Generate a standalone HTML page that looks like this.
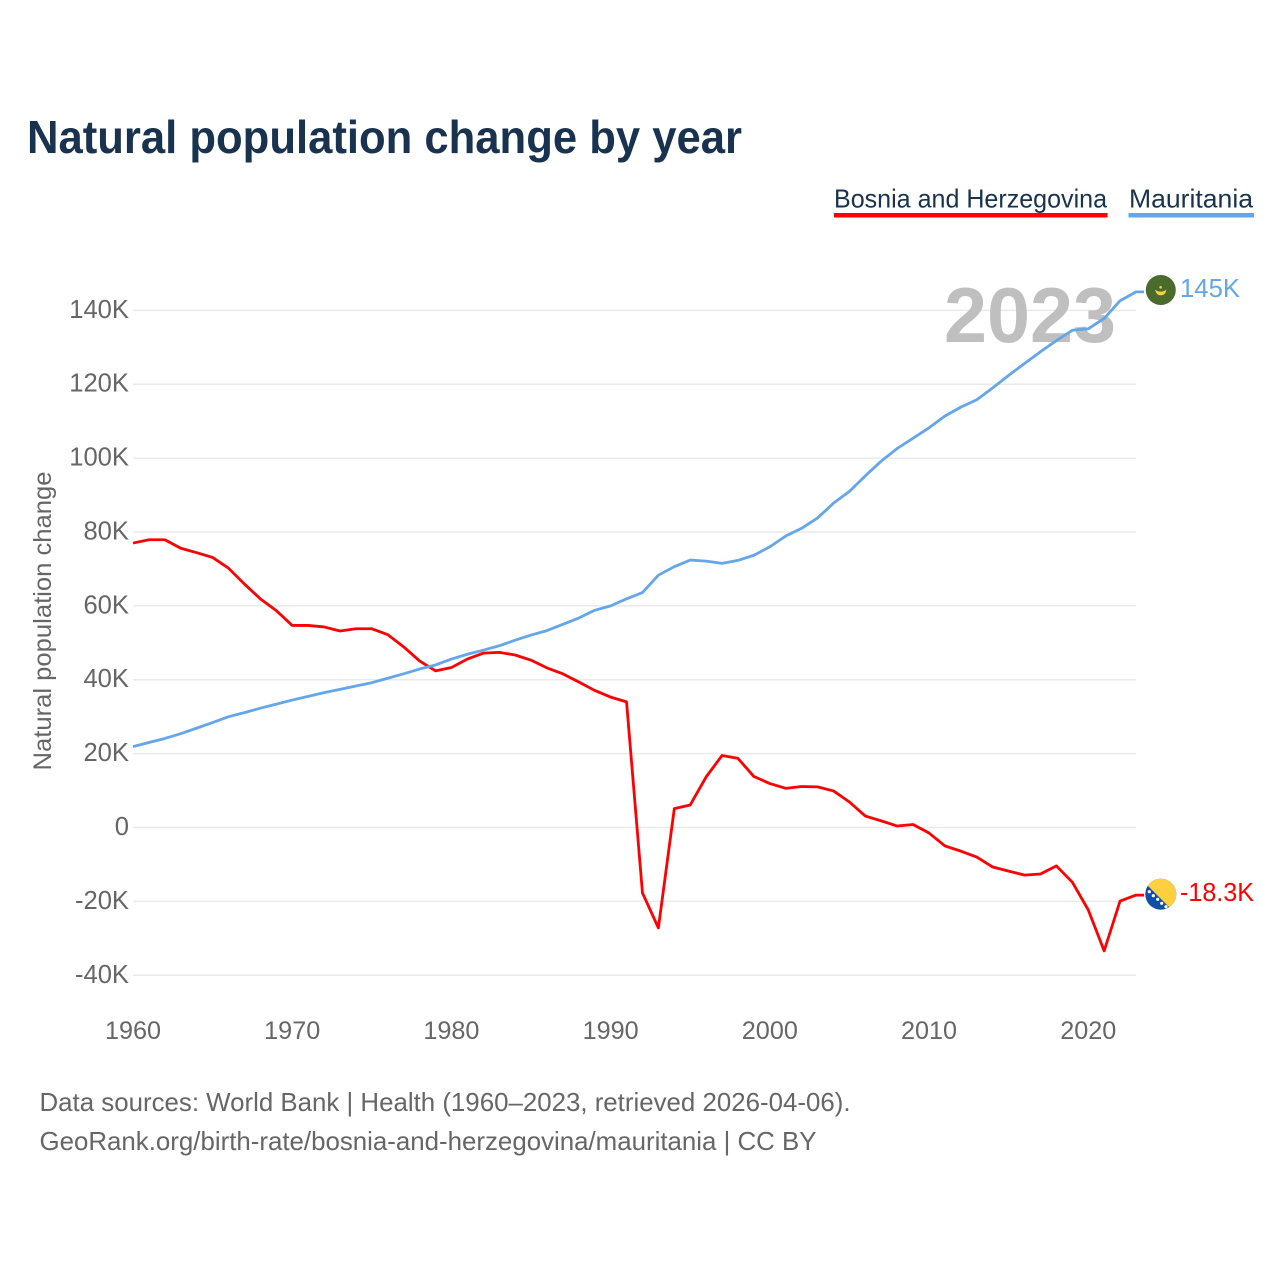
<!DOCTYPE html>
<html lang="en">
<head>
<meta charset="utf-8">
<title>Natural population change by year</title>
<style>
html,body{margin:0;padding:0;background:#fff;}
svg{display:block;font-family:"Liberation Sans",sans-serif;}
</style>
</head>
<body>
<svg id="chart" xmlns="http://www.w3.org/2000/svg" width="1280" height="1280" viewBox="0 0 1280 1280">
  <defs>
    <clipPath id="flag-clip-mr"><circle cx="1160.8" cy="290" r="15"/></clipPath>
    <clipPath id="flag-clip-ba"><circle cx="1160.8" cy="894.2" r="15.5"/></clipPath>
  </defs>
  <rect width="1280" height="1280" fill="#fff"/>
  <text x="27" y="153" font-size="46" font-weight="700" fill="#18324f" textLength="715" lengthAdjust="spacingAndGlyphs">Natural population change by year</text>

  <g>
    <text x="834" y="207.500" font-size="26" fill="#18324f" textLength="273" lengthAdjust="spacingAndGlyphs">Bosnia and Herzegovina</text>
    <rect x="834" y="213" width="273.500" height="4.500" fill="#ff0000"/>
  </g>
  <g>
    <text x="1129" y="207.500" font-size="26" fill="#18324f" textLength="124" lengthAdjust="spacingAndGlyphs">Mauritania</text>
    <rect x="1128.500" y="213" width="125.500" height="4.500" fill="#63a6ea"/>
  </g>

  <g id="grid"></g>
  <g id="y-ticks"></g>
  <g id="x-ticks"></g>

  <text transform="translate(51,621) rotate(-90)" text-anchor="middle" font-size="25" fill="#666" textLength="299" lengthAdjust="spacingAndGlyphs">Natural population change</text>
  <text id="year-label" x="1030" y="342" text-anchor="middle" font-size="78" font-weight="700" fill="#bfbfbf" textLength="172" lengthAdjust="spacingAndGlyphs">2023</text>

  <g id="series"></g>

  <g clip-path="url(#flag-clip-mr)">
    <rect x="1145" y="274" width="32" height="32" fill="#4a6a2e"/>
    <path d="M1155.300 289.800 A5.500 5.500 0 0 0 1166.300 289.800 A6.500 4 0 0 1 1155.300 289.800 Z" fill="#f6d33c"/>
    <circle cx="1160.600" cy="287.300" r="1.300" fill="#f6d33c"/>
  </g>
  <text id="label-mr" x="1180" y="297" font-size="26" fill="#63a6ea" textLength="60" lengthAdjust="spacingAndGlyphs">145K</text>

  <g clip-path="url(#flag-clip-ba)">
    <rect x="1144" y="878" width="33" height="33" fill="#0d4ea6"/>
    <polygon points="1140,878 1177,878 1177,915" fill="#fdd03f"/>
    <g fill="#fff">
      <circle cx="1149.300" cy="891.700" r="1.600"/>
      <circle cx="1153.300" cy="895.700" r="1.600"/>
      <circle cx="1157.700" cy="899.300" r="1.600"/>
      <circle cx="1161.700" cy="903.300" r="1.600"/>
      <circle cx="1166" cy="906.700" r="1.600"/>
    </g>
  </g>
  <text id="label-ba" x="1180" y="901" font-size="26" fill="#ff0000" textLength="74" lengthAdjust="spacingAndGlyphs">-18.3K</text>

  <text x="39.500" y="1111" font-size="26" fill="#666" textLength="811" lengthAdjust="spacingAndGlyphs">Data sources: World Bank | Health (1960–2023, retrieved 2026-04-06).</text>
  <text x="39.500" y="1150" font-size="26" fill="#666" textLength="777" lengthAdjust="spacingAndGlyphs">GeoRank.org/birth-rate/bosnia-and-herzegovina/mauritania | CC BY</text>
</svg>
<script>
const startYear = 1960;
const yTickValues = [-40, -20, 0, 20, 40, 60, 80, 100, 120, 140];
const yTickLabels = ["-40K", "-20K", "0", "20K", "40K", "60K", "80K", "100K", "120K", "140K"];
const xTickYears = [1960, 1970, 1980, 1990, 2000, 2010, 2020];
const bosniaValues = [
  77.0, 77.9, 77.9, 75.6, 74.4, 73.1, 70.2, 65.9, 61.9, 58.7,
  54.7, 54.7, 54.3, 53.2, 53.8, 53.8, 52.2, 48.9, 45.1, 42.4,
  43.3, 45.6, 47.2, 47.4, 46.7, 45.3, 43.2, 41.6, 39.4, 37.1,
  35.3, 34.0, -17.7, -27.2, 5.1, 6.1, 13.7, 19.5, 18.7, 13.8,
  11.9, 10.6, 11.1, 11.0, 9.9, 6.9, 3.1, 1.8, 0.4, 0.8,
  -1.5, -5.0, -6.4, -8.0, -10.7, -11.8, -12.9, -12.6, -10.4, -14.8,
  -22.3, -33.4, -19.9, -18.3
];
const mauritaniaValues = [
  21.9, 23.0, 24.1, 25.4, 26.9, 28.4, 30.0, 31.1, 32.3, 33.4,
  34.5, 35.5, 36.5, 37.4, 38.3, 39.2, 40.4, 41.6, 42.9, 44.0,
  45.6, 46.9, 48.0, 49.2, 50.7, 52.1, 53.3, 55.0, 56.7, 58.8,
  60.0, 61.9, 63.6, 68.3, 70.6, 72.4, 72.1, 71.5, 72.3, 73.7,
  76.0, 78.9, 81.0, 83.8, 87.8, 91.0, 95.2, 99.2, 102.6, 105.4,
  108.2, 111.4, 113.8, 115.8, 119.0, 122.4, 125.6, 128.8, 131.8, 134.6,
  135.0, 137.8, 142.6, 145.0
];

const SVG_NS = "http://www.w3.org/2000/svg";
const plotLeft = 133, plotRight = 1136, tailLength = 8;
function xScale(year) { return plotLeft + (year - 1960) * (plotRight - plotLeft) / 63; }
function yScale(value) { return 827.5 - value * 3.694; }

const gridGroup = document.getElementById("grid");
const yTickGroup = document.getElementById("y-ticks");
const xTickGroup = document.getElementById("x-ticks");
const seriesGroup = document.getElementById("series");

yTickValues.forEach(function (value, i) {
  const line = document.createElementNS(SVG_NS, "line");
  line.setAttribute("x1", plotLeft);
  line.setAttribute("x2", plotRight);
  line.setAttribute("y1", yScale(value));
  line.setAttribute("y2", yScale(value));
  line.setAttribute("stroke", "#eaeaea");
  line.setAttribute("stroke-width", "1.5");
  
  
  gridGroup.appendChild(line);

  const label = document.createElementNS(SVG_NS, "text");
  label.setAttribute("x", 129);
  label.setAttribute("y", yScale(value) + 7.5);
  label.setAttribute("text-anchor", "end");
  label.setAttribute("font-size", "25.6");
  label.setAttribute("fill", "#666");
  
  
  label.textContent = yTickLabels[i];
  yTickGroup.appendChild(label);
});

xTickYears.forEach(function (year) {
  const label = document.createElementNS(SVG_NS, "text");
  label.setAttribute("x", xScale(year));
  label.setAttribute("y", 1039);
  label.setAttribute("text-anchor", "middle");
  label.setAttribute("font-size", "25.2");
  label.setAttribute("fill", "#666");
  
  
  label.textContent = String(year);
  xTickGroup.appendChild(label);
});

function linePoints(values) {
  const pts = values.map(function (v, i) {
    return xScale(startYear + i).toFixed(2) + "," + yScale(v).toFixed(2);
  });
  const last = values[values.length - 1];
  pts.push((xScale(startYear + values.length - 1) + tailLength).toFixed(2) + "," + yScale(last).toFixed(2));
  return pts.join(" ");
}

const bosniaLine = document.createElementNS(SVG_NS, "polyline");
bosniaLine.setAttribute("points", linePoints(bosniaValues));
bosniaLine.setAttribute("fill", "none");
bosniaLine.setAttribute("stroke", "#ff0000");
bosniaLine.setAttribute("stroke-width", "2.8");
bosniaLine.setAttribute("stroke-linejoin", "round");


seriesGroup.appendChild(bosniaLine);

const mauritaniaLine = document.createElementNS(SVG_NS, "polyline");
mauritaniaLine.setAttribute("points", linePoints(mauritaniaValues));
mauritaniaLine.setAttribute("fill", "none");
mauritaniaLine.setAttribute("stroke", "#63a6ea");
mauritaniaLine.setAttribute("stroke-width", "2.8");
mauritaniaLine.setAttribute("stroke-linejoin", "round");


seriesGroup.appendChild(mauritaniaLine);
</script>
</body>
</html>
